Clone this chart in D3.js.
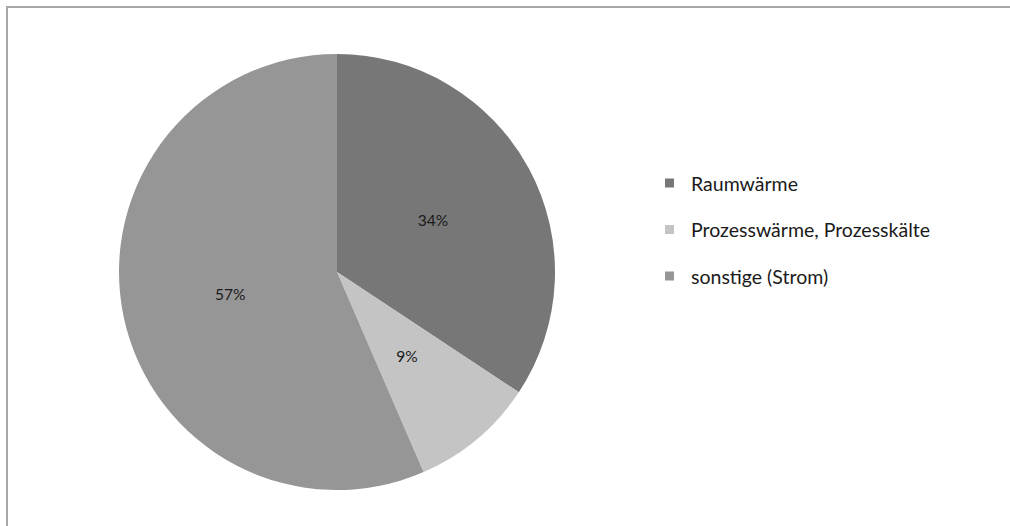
<!DOCTYPE html>
<html>
<head>
<meta charset="utf-8">
<script src="https://cdn.jsdelivr.net/npm/d3@7"></script>
<style>
  html, body { margin: 0; padding: 0; background: #fff; }
  svg { display: block; }
  text { font-family: Lato, "Open Sans", sans-serif; fill: #1a1a1a; }
</style>
</head>
<body>
<svg id="chart" width="1010" height="526"></svg>
<script>
const categories = ["Raumwärme", "Prozesswärme, Prozesskälte", "sonstige (Strom)"];
const values = [34.3, 9.2, 56.5];
const valueLabels = ["34%", "9%", "57%"];
const colors = ["#777777", "#c4c4c4", "#969696"];

const svg = d3.select("#chart");
const W = 1010, H = 526;

// outer frame (top and left edges visible)
svg.append("rect")
  .attr("x", 7).attr("y", 7)
  .attr("width", W + 20).attr("height", H + 20)
  .attr("fill", "none")
  .attr("stroke", "#a8a8a8")
  .attr("stroke-width", 2);

const cx = 337, cy = 272, R = 218;

const pie = d3.pie().sort(null).value(d => d.v);
const data = pie(categories.map((c, i) => ({ c, v: values[i], l: valueLabels[i], col: colors[i] })));
const arc = d3.arc().innerRadius(0).outerRadius(R);
const labelArc = d3.arc().innerRadius(R * 0.5).outerRadius(R * 0.5);

const g = svg.append("g").attr("transform", `translate(${cx},${cy})`);
g.selectAll("path").data(data).join("path")
  .attr("d", arc)
  .attr("fill", d => d.data.col);

g.selectAll("text.lbl").data(data).join("text")
  .attr("class", "lbl")
  .attr("transform", d => `translate(${labelArc.centroid(d)})`)
  .attr("text-anchor", "middle")
  .attr("dominant-baseline", "central")
  .style("font-size", "15.5px")
  .text(d => d.data.l);

// legend
const legendY = d3.scalePoint().domain(categories).range([183, 276]);
const lg = svg.append("g");
const items = lg.selectAll("g").data(categories).join("g")
  .attr("transform", d => `translate(665,${legendY(d)})`);
items.append("rect")
  .attr("x", 0).attr("y", -4.5)
  .attr("width", 9).attr("height", 9)
  .attr("fill", (d, i) => colors[i]);
items.append("text")
  .attr("x", 26).attr("y", 0)
  .attr("dominant-baseline", "central")
  .style("font-size", "19.5px")
  .text(d => d);
</script>
</body>
</html>
